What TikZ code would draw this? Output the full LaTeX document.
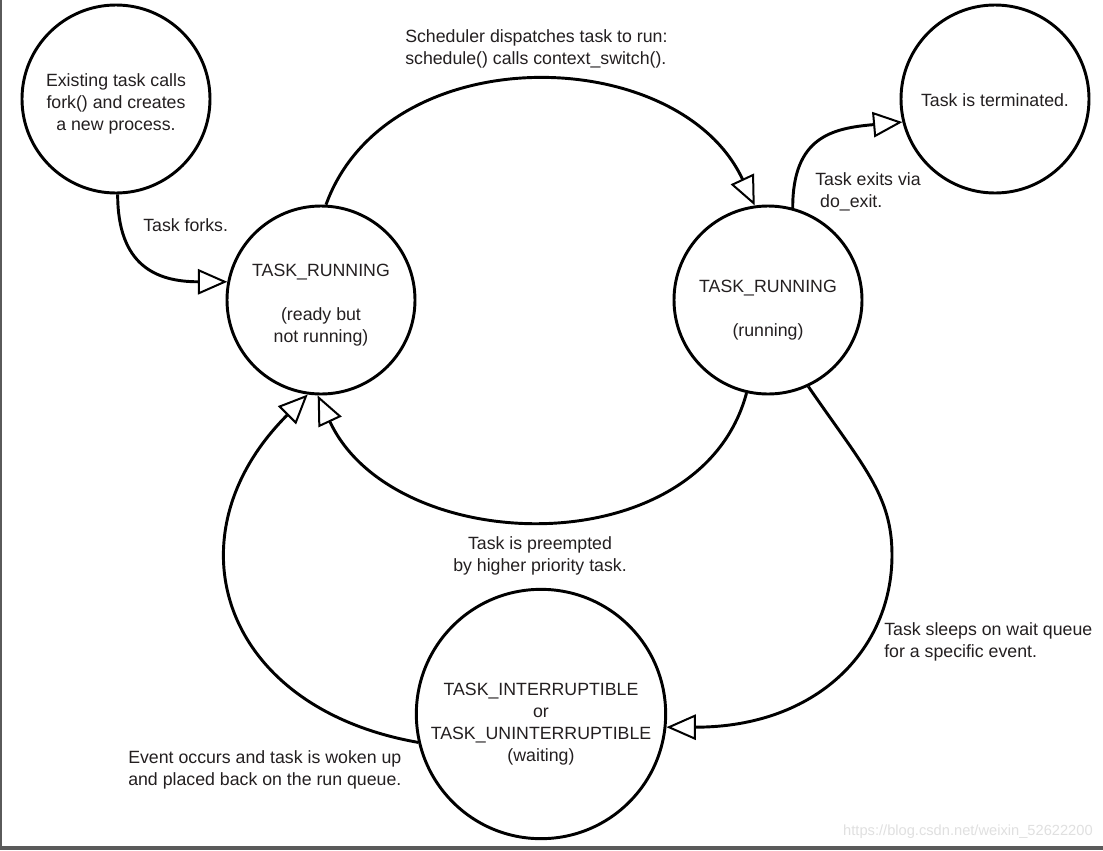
\documentclass[tikz,border=0pt]{standalone}
\usepackage{fontspec}
\setmainfont{Liberation Sans}
\usetikzlibrary{arrows.meta}
\definecolor{ink}{HTML}{231F20}
\definecolor{framegray}{HTML}{5A5A5A}
\tikzset{procstate/.style={circle, draw=black, line width=2.2pt, minimum size=#1, inner sep=0pt},
%default diameter fits the small states.
procstate/.default={141pt},
trans/.style={line width=2.2pt, -{Triangle[open, length=22pt, width=19pt, line width'=1.5pt]}},
lbl/.style={text=ink, font=\fontsize{13.3}{16.5}\selectfont, inner sep=0pt}}

\begin{document}
\begin{tikzpicture}[x=0.75pt, y=-0.75pt]

    \fill[white] (0,0) rectangle (1103,850);
    \useasboundingbox (0,0) rectangle (1103,850);
    \fill[framegray] (0,0) rectangle (2,846);
    \fill[framegray] (0,846) rectangle (1103,850);

    \node[procstate] (fork) at (116,99) {};
    \node[procstate] (ready) at (321,300) {};
    \node[procstate] (run) at (768,300) {};
    \node[procstate] (term) at (995,99) {};
    \node[procstate=187pt] (wait) at (541,714) {};

    \coordinate (sleepbend) at (892,555);

    \node[lbl, align=center] (forktext) at (116,104) {Existing task calls\\fork() and creates\\a new process.};
    \node[lbl, align=center] (readytext) at (321,305) {TASK\_RUNNING\\[16.5pt](ready but\\not running)};
    \node[lbl, align=center] (runtext) at (768,310) {TASK\_RUNNING\\[16pt](running)};
    \node[lbl, align=center] (termtext) at (995,100) {Task is terminated.};
    \node[lbl, align=center] (waittext) at (541,724) {TASK\_INTERRUPTIBLE\\or\\TASK\_UNINTERRUPTIBLE\\(waiting)};


    \node[lbl, anchor=west, align=left] (forks) at (143,225) {Task forks.};
    \node[lbl, anchor=west, align=left] (dispatch) at (405,49) {Scheduler dispatches task to run:\\schedule() calls context\_switch().};
    \node[lbl, anchor=west, align=left] (exits) at (815,192) {Task exits via\\\ do\_exit.};
    \node[lbl, align=center] (preempt) at (540,556) {Task is preempted\\by higher priority task.};
    \node[lbl, anchor=west, align=left] (sleeps) at (884,642) {Task sleeps on wait queue\\for a specific event.};
    \node[lbl, anchor=west, align=left] (wakes) at (128,770) {Event occurs and task is woken up\\and placed back on the run queue.};
    \node[text=black!12, font=\fontsize{11}{13}\selectfont, anchor=east, inner sep=0pt] (mark) at (1093,832) {https://blog.csdn.net/weixin\_52622200};

    \draw[trans] (fork.-89) to[out=-90, in=180, looseness=1.3] (ready.169);
    \draw[trans] (ready.87) to[out=70, in=115, looseness=1.07] (run.98);
    \draw[trans] (run.75) to[out=90, in=185, looseness=1.3] (term.194);
    \draw[trans] (run.-103) to[out=-105, in=-65, looseness=1.07] (ready.-92);
    \draw[trans] (run.-65) .. controls +(55,80) and +(0,-60) .. (sleepbend)
                 .. controls +(0,95) and +(150,0) .. (wait.-6);
    \draw[trans] (wait.-167) to[out=170, in=-135, looseness=1.4] (ready.-98);

  \end{tikzpicture}
\end{document}
